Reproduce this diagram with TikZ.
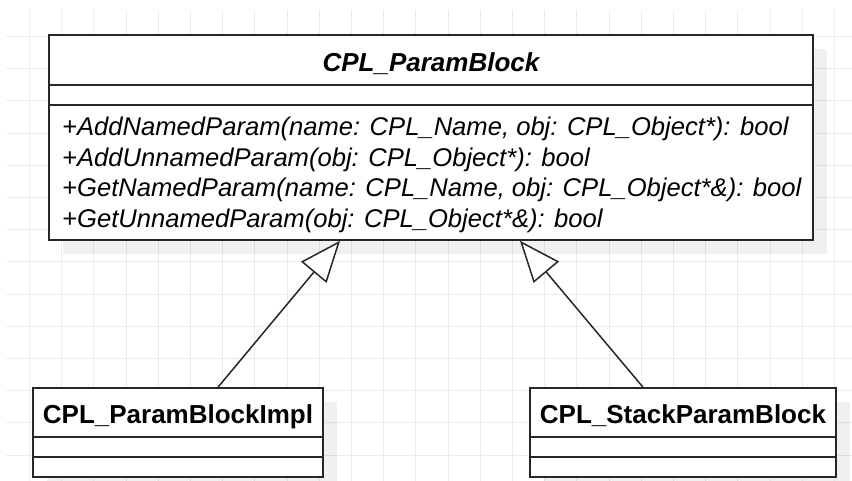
\documentclass[tikz,border=0pt]{standalone}
\usepackage{fontspec}
\setmainfont{Liberation Sans}
\usetikzlibrary{arrows.meta,shadows}

\definecolor{gridline}{HTML}{EBEBEB}
\definecolor{edge}{HTML}{262626}

\begin{document}
\begin{tikzpicture}[x=1pt,y=-1pt,
  classbox/.style={rectangle, draw=edge, line width=1.6pt, fill=white, inner sep=0pt,
    drop shadow={shadow xshift=14pt, shadow yshift=-14pt, fill=black, opacity=0.06}},
  sepline/.style={draw=edge, line width=1.6pt},
  classname/.style={font=\fontsize{26}{30}\selectfont\bfseries, inner sep=0pt, anchor=base},
  opline/.style={font=\fontsize{25.6}{30}\selectfont\itshape, inner sep=0pt, anchor=base west},
  extends/.style={draw=edge, line width=1.5pt, -{Triangle[length=41pt, width=33pt, fill=white]}},
]
\useasboundingbox (0,0) rectangle (852,481);

% background grid, lines snapped to whole units
\foreach \gx in {0,...,25} {
  \pgfmathsetmacro{\px}{round(29+32.2*\gx)+0.5}
  \draw[gridline, line width=1.2pt] (\px, 10) -- (\px, 481);
}
\foreach \gy in {0,...,14} {
  \pgfmathsetmacro{\py}{round(36+32.2*\gy)+0.5}
  \draw[gridline, line width=1.2pt] (6, \py) -- (852, \py);
}

% abstract base class
\node[classbox, minimum width=764pt, minimum height=205pt] (base) at (431,137.5) {};
\draw[sepline] ([yshift=-51pt]base.north west) -- ([yshift=-51pt]base.north east);
\draw[sepline] ([yshift=-71pt]base.north west) -- ([yshift=-71pt]base.north east);
\node[classname, font=\fontsize{26}{30}\selectfont\bfseries\itshape] (baseName) at (431,72) {CPL\_ParamBlock};
\node[opline] (op1) at (62,136) {+AddNamedParam(name: CPL\_Name, obj: CPL\_Object*): bool};
\node[opline] (op2) at (62,166.5) {+AddUnnamedParam(obj: CPL\_Object*): bool};
\node[opline] (op3) at (62,197) {+GetNamedParam(name: CPL\_Name, obj: CPL\_Object*\&): bool};
\node[opline] (op4) at (62,227.5) {+GetUnnamedParam(obj: CPL\_Object*\&): bool};

% implementations
\node[classbox, minimum width=290pt, minimum height=89pt] (impl) at (178,432.5) {};
\draw[sepline] ([yshift=-50pt]impl.north west) -- ([yshift=-50pt]impl.north east);
\draw[sepline] ([yshift=-70pt]impl.north west) -- ([yshift=-70pt]impl.north east);
\node[classname] (implName) at (178,423) {CPL\_ParamBlockImpl};

\node[classbox, minimum width=306pt, minimum height=89pt] (stack) at (683,432.5) {};
\draw[sepline] ([yshift=-50pt]stack.north west) -- ([yshift=-50pt]stack.north east);
\draw[sepline] ([yshift=-70pt]stack.north west) -- ([yshift=-70pt]stack.north east);
\node[classname] (stackName) at (683,423) {CPL\_StackParamBlock};

% generalisation arrows
\draw[extends] ([xshift=40pt]impl.north) -- ([xshift=-91pt]base.south);
\draw[extends] ([xshift=-40pt]stack.north) -- ([xshift=89pt]base.south);
\end{tikzpicture}
\end{document}
